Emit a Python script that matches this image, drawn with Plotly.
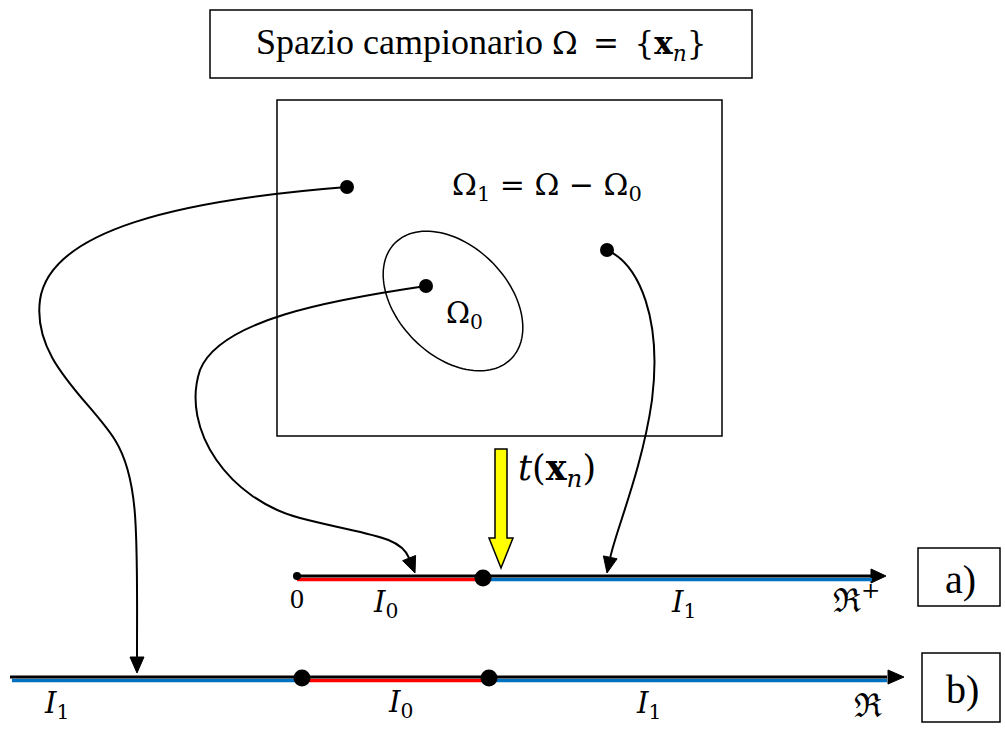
import numpy as np
import plotly.graph_objects as go

W, H = 1005, 729

# ---------------- data (pixel coordinates of the diagram) ----------------
# sample points inside the sample space
pt_x = [347, 426, 607]
pt_y = [187, 286, 250]

# axis a) : half line R+  (origin, threshold, end of line)
axis_a_y = 576
axis_a_x = [297, 483, 872]
axis_a_tip = 886
# axis b) : real line R  (start, threshold1, threshold2, end)
axis_b_y = 677
axis_b_x = [10, 302, 489, 887]
axis_b_tip = 904

# boxes: (x0, y0, x1, y1)
title_box = [210, 10, 752, 78]
space_box = [277, 100, 722, 436]
box_a = [918, 548, 1000, 606]
box_b = [922, 653, 1000, 722]

# region Omega_0 (ellipse): center, semi-axes, rotation (deg)
ell_c = [453, 301]
ell_ab = [82, 55]
ell_rot = 45

# curved mapping arrows: cubic Bezier control points
curve1 = [(347, 187), (180, 200), (50, 230), (40, 300),
          (32, 360), (90, 400), (115, 440),
          (140, 480), (137, 540), (137, 673)]
curve2 = [(426, 286), (330, 300), (220, 320), (200, 370),
          (180, 430), (230, 500), (300, 518),
          (365, 535), (400, 535), (415, 573)]
curve3 = [(607, 250), (640, 265), (662, 320), (652, 400),
          (642, 470), (616, 530), (607, 573)]

# yellow transformation arrow t(x_n)
yarrow_x = [495, 507, 507, 513, 501, 489, 495]
yarrow_y = [449, 449, 538, 538, 568, 538, 538]

TXT = "Liberation Serif"
MATH = "DejaVu Serif"
EN = "\u2002"

# text labels: (text, x, y, size, font)
labels = [
    ("Spazio campionario <span style='font-family:DejaVu Serif;font-size:31px'>Ω"
     + EN + "=" + EN + "{<b>x</b><sub><i>n</i></sub>}</span>", 481, 44, 36, TXT),
    ("Ω<sub>1</sub> = Ω − Ω<sub>0</sub>", 547, 186, 30, MATH),
    ("Ω<sub>0</sub>", 464, 315, 29, MATH),
    ("<i>t</i>(<b>x</b><sub><i>n</i></sub>)", 557, 470, 35, MATH),
    ("0", 297, 598, 28, TXT),
    ("<i>I</i><sub>0</sub>", 385, 604, 29, MATH),
    ("<i>I</i><sub>1</sub>", 683, 604, 29, MATH),
    ("ℜ<sup>+</sup>", 856, 598, 33, MATH),
    ("a)", 960, 579, 40, TXT),
    ("<i>I</i><sub>1</sub>", 56, 705, 29, MATH),
    ("<i>I</i><sub>0</sub>", 400, 704, 29, MATH),
    ("<i>I</i><sub>1</sub>", 648, 705, 29, MATH),
    ("ℜ", 868, 705, 33, MATH),
    ("b)", 962, 689, 40, TXT),
]

BLUE = "#0070C0"
RED = "#FF0000"

fig = go.Figure()
shapes = []


def rect(b, width=1.5):
    return dict(type="rect", x0=b[0], y0=b[1], x1=b[2], y1=b[3],
                line=dict(color="black", width=width), layer="below")


for b in (title_box, space_box, box_a, box_b):
    shapes.append(rect(b))

# ellipse path
t = np.linspace(0, 2 * np.pi, 121)
th = np.deg2rad(ell_rot)
ex = ell_c[0] + ell_ab[0] * np.cos(t) * np.cos(th) - ell_ab[1] * np.sin(t) * np.sin(th)
ey = ell_c[1] + ell_ab[0] * np.cos(t) * np.sin(th) + ell_ab[1] * np.sin(t) * np.cos(th)
path = "M " + " L ".join(f"{a:.1f},{b:.1f}" for a, b in zip(ex, ey)) + " Z"
shapes.append(dict(type="path", path=path, line=dict(color="black", width=1.5), layer="below"))


def head(tip, frm, length=16, half=7):
    d = np.array(tip, float) - np.array(frm, float)
    d /= np.linalg.norm(d)
    n = np.array([-d[1], d[0]])
    base = np.array(tip) - d * length
    p1 = base + n * half
    p2 = base - n * half
    return base, f"M {tip[0]},{tip[1]} L {p1[0]:.1f},{p1[1]:.1f} L {p2[0]:.1f},{p2[1]:.1f} Z"


for c in (curve1, curve2, curve3):
    base, tri = head(c[-1], c[-2])
    pts = list(c[:-1]) + [tuple(base)]
    p = f"M {pts[0][0]},{pts[0][1]}"
    for i in range(1, len(pts), 3):
        a, b, e = pts[i], pts[i + 1], pts[i + 2]
        p += f" C {a[0]},{a[1]} {b[0]},{b[1]} {e[0]:.1f},{e[1]:.1f}"
    shapes.append(dict(type="path", path=p, line=dict(color="black", width=2), layer="below"))
    shapes.append(dict(type="path", path=tri, fillcolor="black",
                       line=dict(color="black", width=1), layer="below"))

# axis arrow heads
_, tri_a = head((axis_a_tip, axis_a_y), (axis_a_x[-1], axis_a_y), length=15, half=7)
_, tri_b = head((axis_b_tip, axis_b_y), (axis_b_x[-1], axis_b_y), length=16, half=7)
for tri in (tri_a, tri_b):
    shapes.append(dict(type="path", path=tri, fillcolor="black",
                       line=dict(color="black", width=1), layer="below"))

# yellow arrow
ypath = "M " + " L ".join(f"{a},{b}" for a, b in zip(yarrow_x, yarrow_y)) + " Z"
shapes.append(dict(type="path", path=ypath, fillcolor="#FFFF00",
                   line=dict(color="black", width=1.5), layer="below"))

# ---- axis lines (traces) ----
off = 3.5
# axis a
fig.add_trace(go.Scatter(x=[axis_a_x[0], axis_a_x[1]], y=[axis_a_y + off] * 2, mode="lines",
                         line=dict(color=RED, width=3.5), hoverinfo="skip"))
fig.add_trace(go.Scatter(x=[axis_a_x[1], axis_a_x[2]], y=[axis_a_y + off] * 2, mode="lines",
                         line=dict(color=BLUE, width=3.5), hoverinfo="skip"))
fig.add_trace(go.Scatter(x=[axis_a_x[0], axis_a_x[2]], y=[axis_a_y] * 2, mode="lines",
                         line=dict(color="black", width=3), hoverinfo="skip"))
# axis b
fig.add_trace(go.Scatter(x=[axis_b_x[0] + 2, axis_b_x[1]], y=[axis_b_y + off] * 2, mode="lines",
                         line=dict(color=BLUE, width=3.5), hoverinfo="skip"))
fig.add_trace(go.Scatter(x=[axis_b_x[1], axis_b_x[2]], y=[axis_b_y + off] * 2, mode="lines",
                         line=dict(color=RED, width=3.5), hoverinfo="skip"))
fig.add_trace(go.Scatter(x=[axis_b_x[2], axis_b_x[3]], y=[axis_b_y + off] * 2, mode="lines",
                         line=dict(color=BLUE, width=3.5), hoverinfo="skip"))
fig.add_trace(go.Scatter(x=[axis_b_x[0], axis_b_x[3]], y=[axis_b_y] * 2, mode="lines",
                         line=dict(color="black", width=3), hoverinfo="skip"))

# ---- dots ----
fig.add_trace(go.Scatter(x=pt_x, y=pt_y, mode="markers",
                         marker=dict(color="black", size=14), hoverinfo="skip"))
fig.add_trace(go.Scatter(x=[axis_a_x[1], axis_b_x[1], axis_b_x[2]],
                         y=[axis_a_y + 2, axis_b_y + 1, axis_b_y + 1], mode="markers",
                         marker=dict(color="black", size=17), hoverinfo="skip"))
fig.add_trace(go.Scatter(x=[axis_a_x[0]], y=[axis_a_y], mode="markers",
                         marker=dict(color="black", size=8), hoverinfo="skip"))

annotations = [dict(text=s, x=x, y=y, xref="x", yref="y", showarrow=False,
                    font=dict(family=f, size=sz, color="black"),
                    xanchor="center", yanchor="middle")
               for s, x, y, sz, f in labels]

fig.update_layout(
    width=W, height=H, margin=dict(l=0, r=0, t=0, b=0),
    paper_bgcolor="white", plot_bgcolor="white", showlegend=False,
    xaxis=dict(range=[0, W], visible=False, fixedrange=True),
    yaxis=dict(range=[H, 0], visible=False, fixedrange=True),
    shapes=shapes, annotations=annotations,
)

fig.write_html("out.html", config={"displayModeBar": False},
               post_script="document.body.style.margin='0';")
